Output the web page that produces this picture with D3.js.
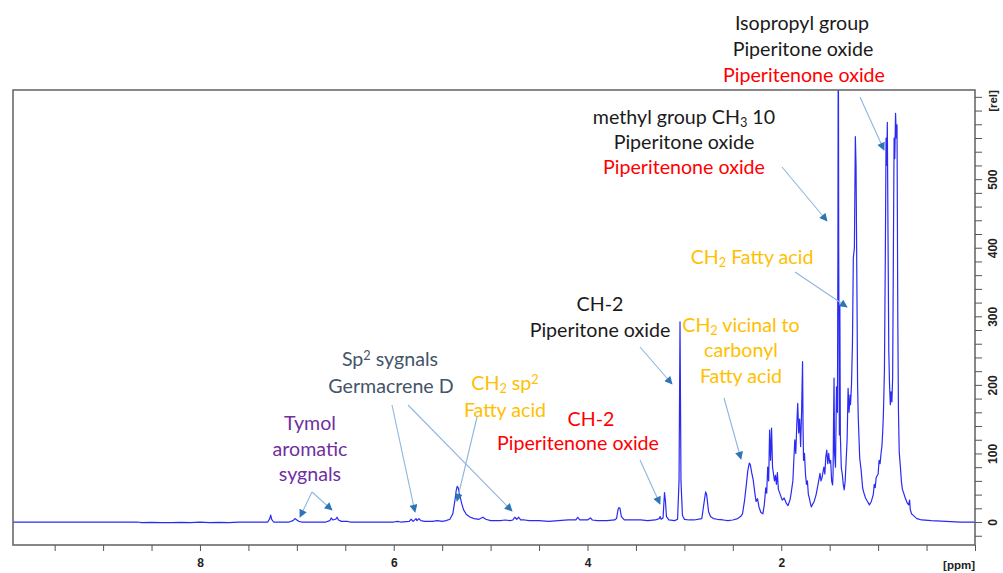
<!DOCTYPE html>
<html>
<head>
<meta charset="utf-8">
<script src="https://cdn.jsdelivr.net/npm/d3@7"></script>
<style>
body { margin: 0; background: #fff; }
svg { display: block; }
.lbl { font-family: Lato, "Open Sans", sans-serif; }
.axis text { font-family: "Liberation Sans", Arial, sans-serif; font-weight: bold; font-size: 12px; fill: #222; }
.axis path { display: none; }
.axis line { stroke: #555; }
</style>
</head>
<body>
<div id="chart"></div>
<script>
// spectrum: chemical shift (ppm) and intensity (rel)
var specPpm = [9.93, 8.65, 8.6, 8.5, 8.4, 8.3, 8.2, 8.1, 8.0, 7.9, 7.8, 7.7, 7.6,
    7.30, 7.28, 7.27, 7.26, 7.24,
    7.08, 7.04, 7.02, 7.0, 6.98, 6.95,
    6.70, 6.66, 6.645, 6.63, 6.60, 6.585, 6.57, 6.54, 6.48, 6.45,
    6.0, 5.96, 5.93, 5.84, 5.82, 5.80, 5.77, 5.76, 5.74, 5.72, 5.68, 5.6, 5.55, 5.5,
    5.46, 5.42, 5.39, 5.37, 5.355, 5.345, 5.335, 5.32, 5.30, 5.28, 5.25, 5.21, 5.17, 5.12, 5.08, 5.05, 5.0, 4.95, 4.9, 4.85, 4.80,
    4.77, 4.75, 4.73, 4.71, 4.69, 4.65, 4.6, 4.5, 4.4, 4.3, 4.2, 4.12, 4.10, 4.08, 4.0, 3.97, 3.95, 3.9, 3.8, 3.72,
    3.70, 3.685, 3.675, 3.665, 3.65, 3.62, 3.55, 3.45, 3.38, 3.30, 3.26, 3.25, 3.24, 3.22, 3.205, 3.195, 3.185, 3.16, 3.10,
    3.07, 3.055, 3.045, 3.035, 3.02, 3.0,
    2.95, 2.90, 2.82, 2.79, 2.78, 2.77, 2.75, 2.73, 2.70, 2.66, 2.6, 2.55, 2.50,
    2.45, 2.42, 2.40, 2.38, 2.36, 2.345, 2.33, 2.32, 2.305, 2.29, 2.275, 2.26, 2.245, 2.23, 2.21, 2.19, 2.175,
    2.16, 2.15, 2.14, 2.13, 2.12, 2.11, 2.10, 2.09, 2.08, 2.07, 2.06, 2.05, 2.04, 2.03, 2.01, 1.99, 1.97, 1.95, 1.93,
    1.91, 1.90, 1.88, 1.87, 1.86, 1.85, 1.84, 1.83, 1.82, 1.81, 1.80, 1.79, 1.78, 1.775, 1.77, 1.76, 1.75, 1.74, 1.73, 1.72, 1.71, 1.70, 1.69, 1.68,
    1.66, 1.64, 1.62, 1.60, 1.59, 1.58, 1.56, 1.55, 1.54, 1.53, 1.52, 1.51, 1.50, 1.49, 1.48, 1.47, 1.465, 1.46, 1.455, 1.45, 1.44, 1.43, 1.42,
    1.415, 1.411, 1.407, 1.40, 1.395, 1.39, 1.38, 1.37, 1.36, 1.35, 1.34,
    1.33, 1.32, 1.31, 1.30, 1.29, 1.285, 1.275, 1.265, 1.256, 1.245, 1.235, 1.228, 1.221, 1.212, 1.205, 1.19, 1.175, 1.16, 1.15, 1.13, 1.11, 1.09,
    1.07, 1.05, 1.04, 1.03, 1.02, 1.00, 0.99, 0.98, 0.97, 0.96, 0.95,
    0.945, 0.935, 0.925, 0.918, 0.912, 0.905, 0.898, 0.89, 0.882, 0.874, 0.866, 0.858, 0.85, 0.843, 0.835, 0.828, 0.82, 0.812, 0.805, 0.797, 0.79, 0.782,
    0.77, 0.76, 0.75, 0.74, 0.72, 0.70, 0.685, 0.675, 0.668, 0.655, 0.64, 0.6, 0.55, 0.45, 0.3, 0.15, 0];
var specRel = [0, 0, -1, -0.5, -1, -1, -0.5, -1, 0, -1, -0.5, -1, 0,
    0, 5, 10, 4, 0,
    0, 2, 5, 3, 1, 0,
    0, 2, 6, 3, 4, 7, 3, 1, 1, 0,
    0, 1, 0, 1, 4, 1, 5, 2, 5, 2, 1, 1, 2, 1,
    2, 4, 12, 30, 46, 52, 50, 40, 28, 18, 11, 7, 5, 4, 7, 4, 2, 2, 2, 3, 2,
    3, 7, 4, 7, 3, 3, 2, 2, 1, 2, 3, 3, 7, 3, 3, 6, 3, 2, 2, 3,
    5, 18, 21, 20, 8, 3, 3, 3, 2, 3, 5, 8, 4, 6, 43, 30, 8, 3, 2,
    4, 60, 292, 60, 10, 4,
    3, 3, 5, 35, 44, 40, 15, 8, 5, 4, 3, 2, 3,
    5, 8, 12, 30, 55, 75, 86, 84, 72, 62, 45, 30, 34, 22, 14, 12, 25,
    50, 42, 80, 60, 134, 90, 137, 80, 70, 60, 68, 55, 72, 48, 40, 32, 35, 28, 24,
    32, 40, 60, 90, 120, 100, 140, 173, 130, 150, 110, 160, 234, 140, 90, 100, 70, 55, 60, 40, 35, 28, 22, 25,
    30, 40, 55, 71, 60, 64, 80, 70, 95, 105, 85, 100, 86, 90, 60, 54, 70, 150, 210, 100, 80, 197, 160,
    400, 800, 400, 127, 316, 127, 79, 70, 55, 47, 60,
    90, 120, 195, 160, 185, 171, 200, 260, 385, 400, 562, 520, 385, 200, 152, 93, 75, 50, 44, 35, 30, 25,
    30, 40, 55, 50, 65, 70, 90, 85, 100, 112, 140,
    160, 220, 400, 560, 520, 583, 420, 250, 200, 171, 190, 175, 210, 380, 560, 530, 596, 560, 579, 300, 160, 102,
    80, 60, 48, 44, 35, 28, 25, 32, 18, 12, 10, 5, 3, 2, 1, 0, 0];

// tick labels
var xTickLabels = [8, 6, 4, 2];
var yTickLabels = [0, 100, 200, 300, 400, 500];

var svgWidth = 1003;
var svgHeight = 573;

var plot = { left: 13, right: 975, top: 90, bottom: 545 };

var svg = d3.select("#chart")
    .append("svg")
    .attr("width", svgWidth)
    .attr("height", svgHeight);

// scales (ppm axis runs right to left)
var x = d3.scaleLinear().domain([9.93, 0]).range([plot.left, plot.right]);
var y = d3.scaleLinear().domain([-33.5, 630]).range([plot.bottom, plot.top]);

svg.append("clipPath")
    .attr("id", "clip")
    .append("rect")
    .attr("x", plot.left)
    .attr("y", plot.top)
    .attr("width", plot.right - plot.left)
    .attr("height", plot.bottom - plot.top);

// spectrum line
var spec = specPpm.map((p, i) => [p, specRel[i]]);
var line = d3.line()
    .x(d => x(d[0]))
    .y(d => y(d[1]));

svg.append("path")
    .datum(spec)
    .attr("clip-path", "url(#clip)")
    .attr("d", line)
    .attr("fill", "none")
    .attr("stroke", "#2a2af4")
    .attr("stroke-width", 1.2)
    .attr("stroke-linejoin", "round");

// frame
svg.append("rect")
    .attr("x", plot.left)
    .attr("y", plot.top)
    .attr("width", plot.right - plot.left)
    .attr("height", plot.bottom - plot.top)
    .attr("fill", "none")
    .attr("stroke", "#6a6a6a")
    .attr("stroke-width", 1.6);

// bottom axis, minor ticks every 0.5 ppm
var bottomAxis = d3.axisBottom(x)
    .tickValues(d3.range(0, 9.6, 0.5))
    .tickSize(6)
    .tickPadding(7)
    .tickFormat(d => xTickLabels.indexOf(d) >= 0 ? d : "");
svg.append("g")
    .attr("class", "axis")
    .attr("transform", `translate(0, ${plot.bottom})`)
    .call(bottomAxis);

svg.append("text")
    .attr("x", plot.right)
    .attr("y", 569)
    .attr("text-anchor", "end")
    .style("font-family", "'Liberation Sans', Arial, sans-serif")
    .style("font-weight", "bold")
    .style("font-size", "11.5px")
    .attr("fill", "#222")
    .text("[ppm]");

// right axis, ticks every 20, labels rotated
var rightAxis = d3.axisRight(y)
    .tickValues(d3.range(-20, 621, 20))
    .tickSize(7)
    .tickFormat(d => yTickLabels.indexOf(d) >= 0 ? d : "");
var yAxis = svg.append("g")
    .attr("class", "axis")
    .attr("transform", `translate(${plot.right}, 0)`)
    .call(rightAxis);
yAxis.selectAll("text")
    .attr("x", null)
    .attr("dy", null)
    .attr("text-anchor", "middle")
    .attr("transform", "translate(21.5, 0) rotate(-90)");

svg.append("text")
    .attr("text-anchor", "middle")
    .attr("transform", `translate(${plot.right + 21.5}, 101) rotate(-90)`)
    .style("font-family", "'Liberation Sans', Arial, sans-serif")
    .style("font-weight", "bold")
    .style("font-size", "11.5px")
    .attr("fill", "#222")
    .text("[rel]");

// annotation font size fitted to the reference width of "Piperitenone oxide"
var probe = svg.append("text").attr("class", "lbl").style("font-size", "18px").text("Piperitenone oxide");
var fs = 18 * 162 / probe.node().getComputedTextLength();
probe.remove();

var black = "#1a1a1a", red = "#ff0000", orange = "#ffc000", purple = "#7030a0", slate = "#44546a";

// each label: centre x, centre y, colour, parts [text, "sub"/"sup"/""]
var labels = [
    [802, 23, black, [["Isopropyl group", ""]]],
    [803, 49, black, [["Piperitone oxide", ""]]],
    [804, 75, red, [["Piperitenone oxide", ""]]],
    [684, 117, black, [["methyl group CH", ""], ["3", "sub"], [" 10", ""]]],
    [684, 142, black, [["Piperitone oxide", ""]]],
    [684, 167, red, [["Piperitenone oxide", ""]]],
    [752, 257, orange, [["CH", ""], ["2", "sub"], [" Fatty acid", ""]]],
    [600, 304, black, [["CH-2", ""]]],
    [600, 330, black, [["Piperitone oxide", ""]]],
    [741, 325, orange, [["CH", ""], ["2", "sub"], [" vicinal to", ""]]],
    [741, 350, orange, [["carbonyl", ""]]],
    [741, 376, orange, [["Fatty acid", ""]]],
    [390, 359, slate, [["Sp", ""], ["2", "sup"], [" sygnals", ""]]],
    [391, 386, slate, [["Germacrene D", ""]]],
    [505, 383, orange, [["CH", ""], ["2", "sub"], [" sp", ""], ["2", "sup"]]],
    [505, 410, orange, [["Fatty acid", ""]]],
    [591, 419, red, [["CH-2", ""]]],
    [578, 443, red, [["Piperitenone oxide", ""]]],
    [310, 423, purple, [["Tymol", ""]]],
    [310, 449, purple, [["aromatic", ""]]],
    [310, 474, purple, [["sygnals", ""]]]
];

labels.forEach(function(l) {
    var t = svg.append("text")
        .attr("class", "lbl")
        .attr("x", l[0])
        .attr("y", l[1])
        .attr("dy", "0.36em")
        .attr("text-anchor", "middle")
        .attr("fill", l[2])
        .style("font-size", fs + "px");
    l[3].forEach(function(p) {
        var ts = t.append("tspan").text(p[0]);
        if (p[1] === "sub") {
            ts.style("font-size", (fs * 0.65) + "px").attr("baseline-shift", "-25%");
        } else if (p[1] === "sup") {
            ts.style("font-size", (fs * 0.65) + "px").attr("baseline-shift", "45%");
        }
    });
});

// arrows
svg.append("defs").append("marker")
    .attr("id", "head")
    .attr("viewBox", "0 0 10 10")
    .attr("refX", 9)
    .attr("refY", 5)
    .attr("markerWidth", 9)
    .attr("markerHeight", 8)
    .attr("markerUnits", "userSpaceOnUse")
    .attr("orient", "auto")
    .append("path")
    .attr("d", "M0,0 L10,5 L0,10 Z")
    .attr("fill", "#2e75b6");

var arrows = [
    [860, 97, 884, 150],
    [782, 167, 827, 221],
    [795, 272, 847, 307],
    [724, 398, 741, 459],
    [640, 347, 672, 384],
    [640, 460, 660, 504],
    [477, 417, 457, 501],
    [392, 405, 415, 512],
    [408, 405, 512, 511],
    [312, 492, 300, 517],
    [312, 492, 332, 510]
];

svg.selectAll(".arrow")
    .data(arrows)
    .enter()
    .append("line")
    .attr("class", "arrow")
    .attr("x1", d => d[0])
    .attr("y1", d => d[1])
    .attr("x2", d => d[2])
    .attr("y2", d => d[3])
    .attr("stroke", "#8db6e0")
    .attr("stroke-width", 1.1)
    .attr("marker-end", "url(#head)");
</script>
</body>
</html>
